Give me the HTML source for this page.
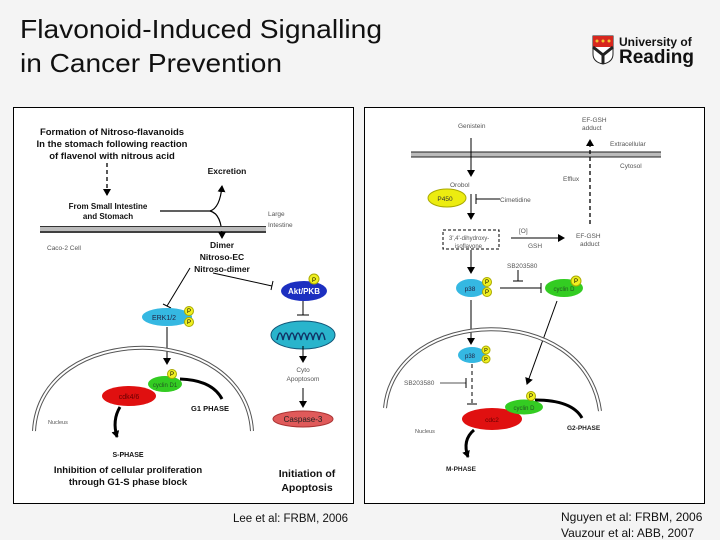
<!DOCTYPE html>
<html><head><meta charset="utf-8"><style>
html,body{margin:0;padding:0;background:#f4f4f4;}
svg{display:block;font-family:"Liberation Sans",sans-serif;}
</style></head><body>
<svg width="720" height="540" viewBox="0 0 720 540" xmlns="http://www.w3.org/2000/svg">
<defs>
<marker id="a" markerWidth="8" markerHeight="8" refX="6" refY="4" orient="auto" markerUnits="userSpaceOnUse"><path d="M0,0 L7,4 L0,8 z" fill="#000"/></marker>
</defs>
<rect width="720" height="540" fill="#f4f4f4"/>
<text x="20" y="38" font-size="26" fill="#111" textLength="362" lengthAdjust="spacingAndGlyphs">Flavonoid-Induced Signalling</text>
<text x="20" y="72" font-size="26" fill="#111" textLength="262" lengthAdjust="spacingAndGlyphs">in Cancer Prevention</text>
<!-- logo -->
<path d="M593,36 h20 v18 q0,8 -10,10 q-10,-2 -10,-10 z" fill="#fff" stroke="#222" stroke-width="1"/>
<rect x="593" y="36" width="20" height="11" fill="#d7271e"/>
<circle cx="597" cy="41" r="1.5" fill="#f4c430"/><circle cx="603" cy="41" r="1.5" fill="#f4c430"/><circle cx="609" cy="41" r="1.5" fill="#f4c430"/>
<path d="M593,47 L603,55 L613,47 M603,55 L603,64" stroke="#222" stroke-width="3" fill="none"/>
<text x="619" y="46" font-size="12" font-weight="bold" fill="#111">University of</text>
<text x="619" y="63" font-size="19" font-weight="bold" fill="#111">Reading</text>

<!-- panels -->
<rect x="13.5" y="107.5" width="340" height="396" fill="#fff" stroke="#000"/>
<rect x="364.5" y="107.5" width="340" height="396" fill="#fff" stroke="#000"/>

<!-- LEFT PANEL -->
<g font-weight="bold" font-size="9.5" text-anchor="middle" fill="#111">
<text x="112" y="135">Formation of Nitroso-flavanoids</text>
<text x="112" y="147">In the stomach following reaction</text>
<text x="112" y="159">of flavenol with nitrous acid</text>
<text x="227" y="174" font-size="8.5">Excretion</text>
<text x="108" y="209" font-size="8">From Small Intestine</text>
<text x="108" y="219" font-size="8">and Stomach</text>
<text x="222" y="248" font-size="8.5">Dimer</text>
<text x="222" y="260" font-size="8.5">Nitroso-EC</text>
<text x="222" y="272" font-size="8.5">Nitroso-dimer</text>
<text x="210" y="411" font-size="7.5">G1 PHASE</text>
<text x="128" y="457" font-size="7">S-PHASE</text>
<text x="128" y="473" font-size="9.5">Inhibition of cellular proliferation</text>
<text x="128" y="485" font-size="9.5">through G1-S phase block</text>
<text x="307" y="477" font-size="10.5">Initiation of</text>
<text x="307" y="491" font-size="10.5">Apoptosis</text>
</g>
<g font-size="6.5" fill="#555">
<text x="268" y="216">Large</text><text x="268" y="227">Intestine</text>
<text x="47" y="250">Caco-2 Cell</text>
<text x="48" y="424" font-size="5.5">Nucleus</text>
<text x="303" y="372" text-anchor="middle">Cyto</text>
<text x="303" y="381" text-anchor="middle">Apoptosom</text>
</g>
<line x1="107" y1="163" x2="107" y2="195" stroke="#000" stroke-width="1.3" stroke-dasharray="4,3" marker-end="url(#a)"/>
<path d="M160,211 H210 Q220,208 222,186" stroke="#000" stroke-width="1.2" fill="none" marker-end="url(#a)"/>
<path d="M210,211 Q222,214 222,238" stroke="#000" stroke-width="1.2" fill="none" marker-end="url(#a)"/>
<rect x="40" y="227" width="226" height="4" fill="#bbb"/>
<line x1="40" y1="226.5" x2="266" y2="226.5" stroke="#333" stroke-width="1"/>
<line x1="40" y1="232" x2="266" y2="232" stroke="#000" stroke-width="1.5"/>
<!-- inhibition lines -->
<line x1="190" y1="268" x2="167" y2="306" stroke="#000"/>
<line x1="163" y1="304" x2="171" y2="308" stroke="#000"/>
<line x1="213" y1="273" x2="272" y2="286" stroke="#000"/>
<line x1="273" y1="281" x2="271" y2="290" stroke="#000"/>
<!-- Akt -->
<ellipse cx="304" cy="291" rx="23" ry="10" fill="#1c2fc0"/>
<text x="304" y="294" font-size="8" font-weight="bold" fill="#fff" text-anchor="middle">Akt/PKB</text>
<circle cx="314" cy="279" r="5" fill="#f0f020" stroke="#aa0"/><text x="314" y="282" font-size="6" text-anchor="middle">P</text>
<line x1="303" y1="301" x2="303" y2="315" stroke="#000"/>
<line x1="297" y1="315" x2="309" y2="315" stroke="#000"/>
<!-- mitochondria -->
<ellipse cx="303" cy="335" rx="32" ry="14" fill="#29b4cc" stroke="#157"/>
<path d="M277,340 q3,-14 6,0 q3,-14 6,0 q3,-14 6,0 q3,-14 6,0 q3,-14 6,0 q3,-14 6,0 q3,-14 6,0 q3,-14 6,0" stroke="#136" stroke-width="1.5" fill="none"/>
<line x1="303" y1="346" x2="303" y2="362" stroke="#000" marker-end="url(#a)"/>
<line x1="303" y1="388" x2="303" y2="407" stroke="#000" marker-end="url(#a)"/>
<ellipse cx="303" cy="419" rx="30" ry="8" fill="#e05a5a" stroke="#a33"/>
<text x="303" y="422" font-size="8" text-anchor="middle" fill="#222">Caspase-3</text>
<!-- ERK -->
<ellipse cx="167" cy="317" rx="25" ry="9" fill="#35b8e2"/>
<text x="164" y="320" font-size="7" text-anchor="middle" fill="#224">ERK1/2</text>
<circle cx="189" cy="311" r="4.5" fill="#f0f020" stroke="#aa0"/><text x="189" y="313" font-size="6" text-anchor="middle">P</text>
<circle cx="189" cy="322" r="4.5" fill="#f0f020" stroke="#aa0"/><text x="189" y="324" font-size="6" text-anchor="middle">P</text>
<line x1="167" y1="327" x2="167" y2="364" stroke="#000" marker-end="url(#a)"/>
<!-- nucleus arc -->
<path d="M34,431 C40,320 245,320 252,431" stroke="#555" stroke-width="4" fill="none"/>
<path d="M34,431 C40,320 245,320 252,431" stroke="#fff" stroke-width="2" fill="none"/>
<path d="M180,379 Q212,380 222,399" stroke="#000" stroke-width="3" fill="none"/>
<ellipse cx="129" cy="396" rx="27" ry="10" fill="#e01010"/>
<text x="129" y="399" font-size="7" text-anchor="middle" fill="#600">cdk4/6</text>
<ellipse cx="165" cy="384" rx="17" ry="8" fill="#33cc22"/>
<text x="165" y="387" font-size="6" text-anchor="middle" fill="#252">cyclin D1</text>
<circle cx="172" cy="374" r="4.5" fill="#f0f020" stroke="#aa0"/><text x="172" y="376" font-size="6" text-anchor="middle">P</text>
<path d="M120,407 Q112,420 117,437" stroke="#000" stroke-width="3" fill="none" marker-end="url(#a)"/>

<!-- RIGHT PANEL -->
<g font-size="6.5" fill="#555">
<text x="458" y="128">Genistein</text>
<text x="582" y="122">EF-GSH</text><text x="582" y="130">adduct</text>
<text x="610" y="146">Extracellular</text>
<text x="620" y="168">Cytosol</text>
<text x="450" y="187">Orobol</text>
<text x="563" y="181">Efflux</text>
<text x="500" y="202">Cimetidine</text>
<text x="519" y="233">[O]</text>
<text x="528" y="248">GSH</text>
<text x="576" y="238">EF-GSH</text><text x="580" y="246">adduct</text>
<text x="507" y="268">SB203580</text>
<text x="404" y="385">SB203580</text>
<text x="415" y="433" font-size="5.5">Nucleus</text>
</g>
<text x="449" y="240" font-size="6" fill="#555">3',4'-dihydroxy-</text>
<text x="455" y="248" font-size="6" fill="#555">isoflavone</text>
<g font-weight="bold" font-size="6.5" fill="#222">
<text x="567" y="430">G2-PHASE</text>
<text x="446" y="471">M-PHASE</text>
</g>
<rect x="411" y="152" width="250" height="5" fill="#bbb"/>
<line x1="411" y1="152" x2="661" y2="152" stroke="#222"/>
<line x1="411" y1="157" x2="661" y2="157" stroke="#222"/>
<line x1="471" y1="138" x2="471" y2="176" stroke="#000" marker-end="url(#a)"/>
<line x1="590" y1="224" x2="590" y2="140" stroke="#000" stroke-width="1.3" stroke-dasharray="4,3" marker-end="url(#a)"/>
<ellipse cx="447" cy="198" rx="19" ry="9" fill="#ecec10" stroke="#aa0"/>
<text x="445" y="201" font-size="6.5" fill="#333" text-anchor="middle">P450</text>
<line x1="471" y1="194" x2="471" y2="219" stroke="#000" marker-end="url(#a)"/>
<line x1="500" y1="199" x2="476" y2="199" stroke="#000"/>
<line x1="476" y1="194" x2="476" y2="204" stroke="#000"/>
<rect x="443" y="230" width="56" height="19" fill="none" stroke="#000" stroke-dasharray="3,2"/>
<line x1="511" y1="238" x2="564" y2="238" stroke="#000" marker-end="url(#a)"/>
<line x1="471" y1="250" x2="471" y2="273" stroke="#000" marker-end="url(#a)"/>
<ellipse cx="471" cy="288" rx="15" ry="9" fill="#35b8e2"/>
<text x="470" y="291" font-size="6.5" text-anchor="middle" fill="#224">p38</text>
<circle cx="487" cy="282" r="4.5" fill="#f0f020" stroke="#aa0"/><text x="487" y="284" font-size="6" text-anchor="middle">P</text>
<circle cx="487" cy="292" r="4.5" fill="#f0f020" stroke="#aa0"/><text x="487" y="294" font-size="6" text-anchor="middle">P</text>
<line x1="500" y1="288" x2="541" y2="288" stroke="#000"/>
<line x1="541" y1="283" x2="541" y2="293" stroke="#000"/>
<line x1="518" y1="270" x2="518" y2="281" stroke="#000"/>
<line x1="513" y1="281" x2="523" y2="281" stroke="#000"/>
<ellipse cx="564" cy="288" rx="19" ry="9" fill="#33cc22"/>
<text x="564" y="291" font-size="6" text-anchor="middle" fill="#252">cyclin D</text>
<circle cx="576" cy="281" r="5" fill="#f0f020" stroke="#aa0"/><text x="576" y="283" font-size="6" text-anchor="middle">P</text>
<line x1="471" y1="300" x2="471" y2="344" stroke="#000" marker-end="url(#a)"/>
<line x1="557" y1="301" x2="527" y2="384" stroke="#000" marker-end="url(#a)"/>
<path d="M385,408 C395,305 585,300 600,411" stroke="#555" stroke-width="4" fill="none"/>
<path d="M385,408 C395,305 585,300 600,411" stroke="#fff" stroke-width="2" fill="none"/>
<ellipse cx="472" cy="355" rx="14" ry="8" fill="#35b8e2"/>
<text x="470" y="358" font-size="6" text-anchor="middle" fill="#224">p38</text>
<circle cx="486" cy="350" r="4" fill="#f0f020" stroke="#aa0"/><text x="486" y="352" font-size="5.5" text-anchor="middle">P</text>
<circle cx="486" cy="359" r="4" fill="#f0f020" stroke="#aa0"/><text x="486" y="361" font-size="5.5" text-anchor="middle">P</text>
<line x1="472" y1="364" x2="472" y2="404" stroke="#000" stroke-dasharray="4,3"/>
<line x1="467" y1="404" x2="477" y2="404" stroke="#000"/>
<line x1="440" y1="383" x2="466" y2="383" stroke="#555"/>
<line x1="466" y1="378" x2="466" y2="388" stroke="#000"/>
<path d="M535,400 Q572,400 582,418" stroke="#000" stroke-width="3" fill="none"/>
<ellipse cx="492" cy="419" rx="30" ry="11" fill="#e01010"/>
<text x="492" y="422" font-size="6.5" text-anchor="middle" fill="#600">cdc2</text>
<ellipse cx="524" cy="407" rx="19" ry="7.5" fill="#33cc22"/>
<text x="524" y="410" font-size="6" text-anchor="middle" fill="#252">cyclin D</text>
<circle cx="531" cy="396" r="4.5" fill="#f0f020" stroke="#aa0"/><text x="531" y="398" font-size="6" text-anchor="middle">P</text>
<path d="M474,430 Q462,440 468,457" stroke="#000" stroke-width="3" fill="none" marker-end="url(#a)"/>

<!-- footer -->
<text x="233" y="522" font-size="11.5" fill="#111">Lee et al:  FRBM, 2006</text>
<text x="561" y="521" font-size="12" fill="#111">Nguyen et al:  FRBM, 2006</text>
<text x="561" y="537" font-size="12" fill="#111">Vauzour et al:  ABB, 2007</text>
</svg>
</body></html>
